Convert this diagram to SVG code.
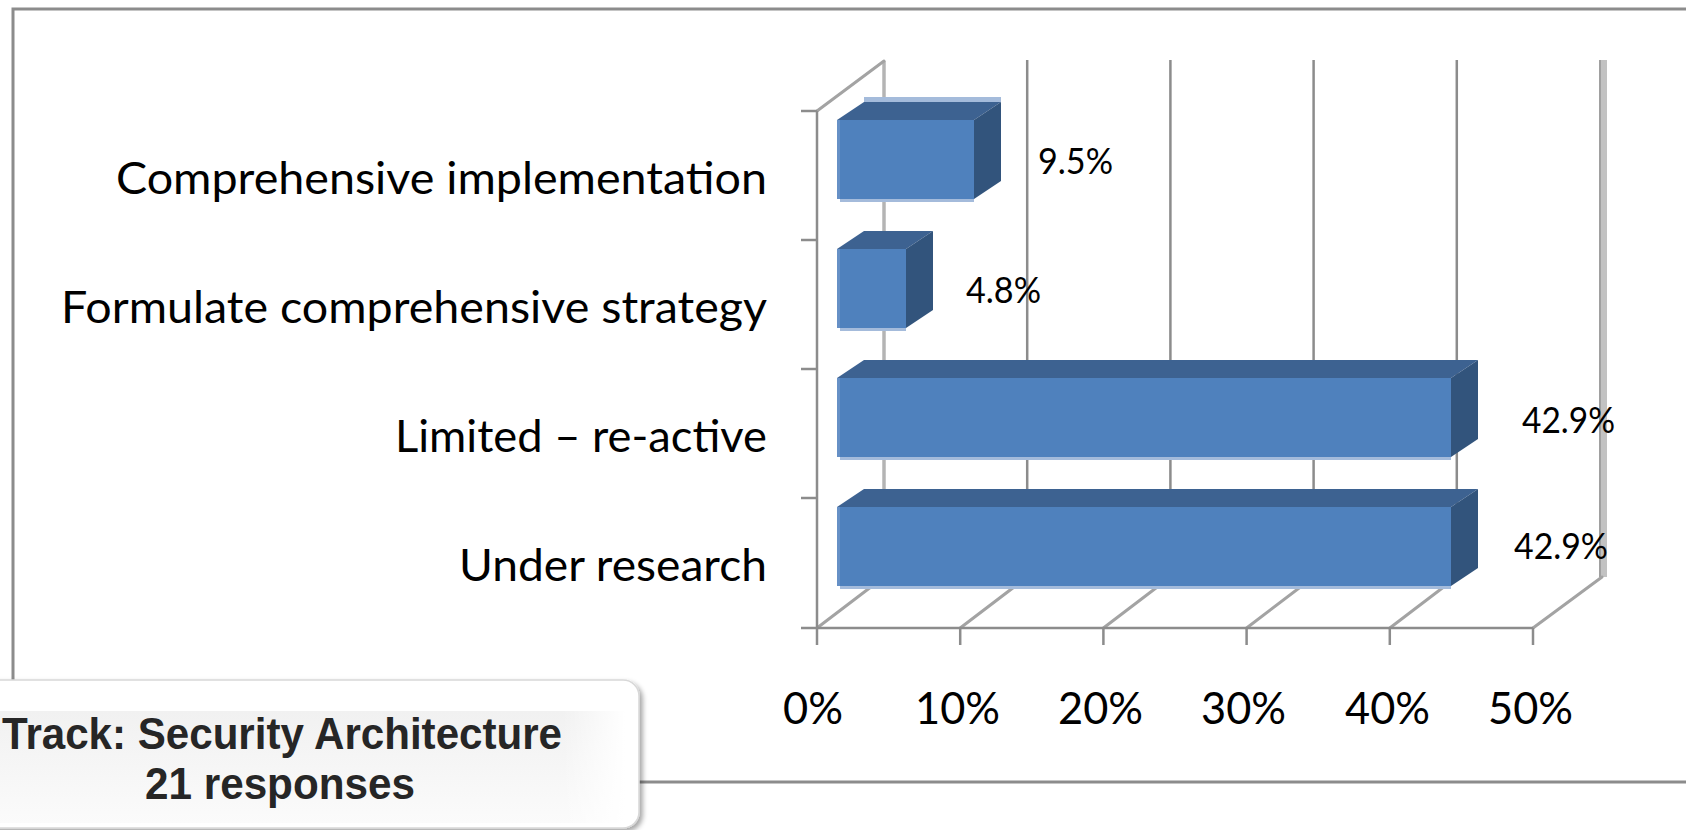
<svg xmlns="http://www.w3.org/2000/svg" width="1686" height="830" viewBox="0 0 1686 830">
<style>
.frame{fill:none;stroke:#8c8c8c;stroke-width:3}
.grid{stroke:#8c8c8c;stroke-width:2.5}
.diag{stroke:#a3a3a3;stroke-width:3;stroke-linecap:round}
.axis{stroke:#8c8c8c;stroke-width:2.5}
.front{fill:#4f81bd}
.top{fill:#3d6291}
.side{fill:#32547c}
.edge{fill:#a4bbdb}
.lite{fill:#6690c6}
.cat{font-family:Lato,"Open Sans",sans-serif;font-size:45px;fill:#000}
.val{font-family:Lato,"Open Sans",sans-serif;font-size:36px;fill:#000}
.tick{font-family:Lato,"Open Sans",sans-serif;font-size:45px;fill:#000}
.title{font-family:"Liberation Sans",Arial,sans-serif;font-weight:bold;font-size:44.5px;fill:#262626}
</style>
<defs>
<linearGradient id="band" x1="0" y1="0" x2="0" y2="1">
<stop offset="0" stop-color="#f1f1f1"/>
<stop offset="1" stop-color="#fbfbfb"/>
</linearGradient>
<linearGradient id="bandfade" x1="0" y1="0" x2="1" y2="0">
<stop offset="0.9" stop-color="#fff" stop-opacity="0"/>
<stop offset="1" stop-color="#fff" stop-opacity="1"/>
</linearGradient>
<filter id="shadow" x="-5%" y="-10%" width="115%" height="130%">
<feDropShadow dx="3" dy="3" stdDeviation="2.5" flood-color="#000" flood-opacity="0.35"/>
</filter>
</defs>
<rect width="1686" height="830" fill="#fff"/>
<!-- chart frame -->
<g id="frame">
<polyline class="frame" points="13,682 13,9 1686,9"/>
<line class="frame" x1="630" y1="782" x2="1686" y2="782"/>
</g>
<!-- walls, gridlines and axes -->
<g id="connectors">
<line x1="884" y1="61" x2="884" y2="577" stroke="#b4b4b4" stroke-width="3.5"/>
<line class="grid" x1="1027.2" y1="60" x2="1027.2" y2="577"/>
<line class="grid" x1="1170.4" y1="60" x2="1170.4" y2="577"/>
<line class="grid" x1="1313.6" y1="60" x2="1313.6" y2="577"/>
<line class="grid" x1="1456.8" y1="60" x2="1456.8" y2="577"/>
<rect x="1600" y="60" width="7" height="517" fill="#c2c2c2"/>
<line x1="1600" y1="60" x2="1600" y2="577" stroke="#a0a0a0" stroke-width="2"/>
<line class="diag" x1="817" y1="111" x2="884" y2="61"/>
<line class="diag" x1="817" y1="628" x2="884" y2="577"/>
<line class="diag" x1="960.2" y1="628" x2="1027.2" y2="577"/>
<line class="diag" x1="1103.4" y1="628" x2="1170.4" y2="577"/>
<line class="diag" x1="1246.6" y1="628" x2="1313.6" y2="577"/>
<line class="diag" x1="1389.8" y1="628" x2="1456.8" y2="577"/>
<line class="diag" x1="1533" y1="628" x2="1602" y2="577"/>
<line class="axis" x1="817" y1="111" x2="817" y2="628"/>
<line class="axis" x1="801" y1="628" x2="1533" y2="628"/>
<line class="axis" x1="801" y1="111" x2="817" y2="111"/>
<line class="axis" x1="801" y1="240" x2="817" y2="240"/>
<line class="axis" x1="801" y1="369" x2="817" y2="369"/>
<line class="axis" x1="801" y1="498" x2="817" y2="498"/>
<line class="axis" x1="817" y1="628" x2="817" y2="645"/>
<line class="axis" x1="960.2" y1="628" x2="960.2" y2="645"/>
<line class="axis" x1="1103.4" y1="628" x2="1103.4" y2="645"/>
<line class="axis" x1="1246.6" y1="628" x2="1246.6" y2="645"/>
<line class="axis" x1="1389.8" y1="628" x2="1389.8" y2="645"/>
<line class="axis" x1="1533" y1="628" x2="1533" y2="645"/>
</g>
<!-- bars -->
<g id="bar-comprehensive-implementation">
<rect class="edge" x="864" y="97" width="137" height="5"/>
<polygon class="top" points="837,120 864,102 1001,102 974,120"/>
<polygon class="side" points="974,120 1001,102 1001,181 974,199"/>
<rect class="front" x="837" y="120" width="137" height="79"/>
<rect class="lite" x="837" y="120" width="3" height="79"/>
<rect class="edge" x="840" y="199" width="134" height="3"/>
</g>
<g id="bar-formulate-strategy">
<polygon class="top" points="837,249 864,231 933,231 906,249"/>
<polygon class="side" points="906,249 933,231 933,310 906,328"/>
<rect class="front" x="837" y="249" width="69" height="79"/>
<rect class="lite" x="837" y="249" width="3" height="79"/>
<rect class="edge" x="840" y="328" width="66" height="3"/>
</g>
<g id="bar-limited-reactive">
<polygon class="top" points="837,378 864,360 1478,360 1451,378"/>
<polygon class="side" points="1451,378 1478,360 1478,439 1451,457"/>
<rect class="front" x="837" y="378" width="614" height="79"/>
<rect class="lite" x="837" y="378" width="3" height="79"/>
<rect class="edge" x="840" y="457" width="611" height="3"/>
</g>
<g id="bar-under-research">
<polygon class="top" points="837,507 864,489 1478,489 1451,507"/>
<polygon class="side" points="1451,507 1478,489 1478,568 1451,586"/>
<rect class="front" x="837" y="507" width="614" height="79"/>
<rect class="lite" x="837" y="507" width="3" height="79"/>
<rect class="edge" x="840" y="586" width="611" height="3"/>
</g>
<!-- category labels -->
<g id="labels">
<text class="cat" x="116" y="194" textLength="651" lengthAdjust="spacingAndGlyphs">Comprehensive implementation</text>
<text class="cat" x="61" y="323" textLength="706" lengthAdjust="spacingAndGlyphs">Formulate comprehensive strategy</text>
<text class="cat" x="395" y="452" textLength="372" lengthAdjust="spacingAndGlyphs">Limited – re-active</text>
<text class="cat" x="459" y="581" textLength="308" lengthAdjust="spacingAndGlyphs">Under research</text>
<text class="val" x="1038" y="174" textLength="75" lengthAdjust="spacingAndGlyphs">9.5%</text>
<text class="val" x="966" y="303" textLength="75" lengthAdjust="spacingAndGlyphs">4.8%</text>
<text class="val" x="1522" y="433" textLength="93" lengthAdjust="spacingAndGlyphs">42.9%</text>
<text class="val" x="1514" y="559" textLength="94" lengthAdjust="spacingAndGlyphs">42.9%</text>
<text class="tick" x="783" y="724" textLength="60" lengthAdjust="spacingAndGlyphs">0%</text>
<text class="tick" x="915" y="724" textLength="85" lengthAdjust="spacingAndGlyphs">10%</text>
<text class="tick" x="1058" y="724" textLength="85" lengthAdjust="spacingAndGlyphs">20%</text>
<text class="tick" x="1201" y="724" textLength="85" lengthAdjust="spacingAndGlyphs">30%</text>
<text class="tick" x="1345" y="724" textLength="85" lengthAdjust="spacingAndGlyphs">40%</text>
<text class="tick" x="1488" y="724" textLength="85" lengthAdjust="spacingAndGlyphs">50%</text>
</g>
<!-- title box -->
<g id="title-box">
<rect x="-30" y="680" width="669" height="148" rx="16" fill="#fff" stroke="#d8d8d8" stroke-width="1.5" filter="url(#shadow)"/>
<rect x="0" y="711" width="625" height="112" fill="url(#band)"/>
<rect x="0" y="711" width="625" height="112" fill="url(#bandfade)"/>
<text class="title" x="2" y="749" textLength="560" lengthAdjust="spacingAndGlyphs">Track: Security Architecture</text>
<text class="title" x="145" y="799" textLength="270" lengthAdjust="spacingAndGlyphs">21 responses</text>
</g>
</svg>
